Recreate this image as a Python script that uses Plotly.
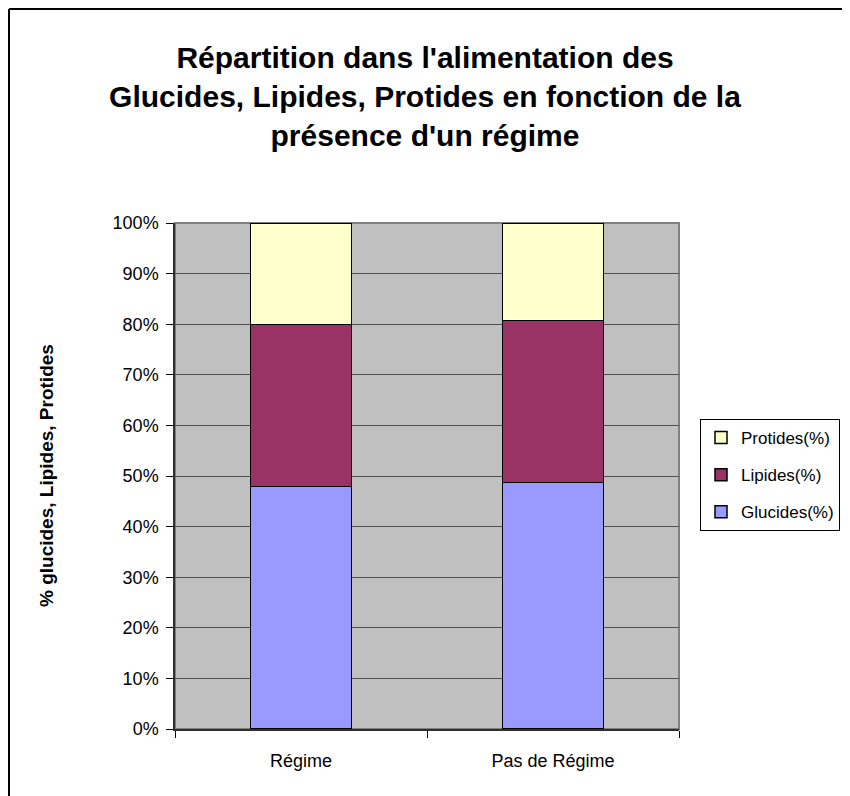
import plotly.graph_objects as go

categories = ["Régime", "Pas de Régime"]
glucides = [47.9, 48.7]
lipides = [32.0, 32.0]
protides = [20.1, 19.3]
y_ticks = list(range(0, 101, 10))
y_tick_labels = [f"{v}%" for v in y_ticks]

title_text = ("Répartition dans l'alimentation des<br>"
              "Glucides, Lipides, Protides en fonction de la<br>"
              "présence d'un régime")
y_title = "% glucides, Lipides, Protides"

OFF = 8  # page body margin
W, H = 850 - OFF, 796 - OFF
L, T = 175 - OFF, 223 - OFF
pw, ph = 504, 506
R, B = W - L - pw, H - T - ph

fig = go.Figure()
series = [("Glucides(%)", glucides, "#9999FF", 3),
          ("Lipides(%)", lipides, "#993366", 2),
          ("Protides(%)", protides, "#FFFFCC", 1)]
for name, vals, col, rank in series:
    fig.add_trace(go.Bar(
        x=categories, y=vals, name=name, legendgroup=name, legendrank=rank,
        marker=dict(color=col, line=dict(color="black", width=1.5)),
        width=0.4,
    ))

# outer chart border: only left and top edges visible in the image
fig.add_shape(type="line", xref="paper", yref="paper",
              x0=(1 - L) / pw, x1=(1 - L) / pw,
              y0=-(B + 20) / ph, y1=(H - B - 1) / ph,
              line=dict(color="black", width=2), layer="below")
fig.add_shape(type="line", xref="paper", yref="paper",
              x0=(1 - L) / pw, x1=(W + 20 - L) / pw,
              y0=(H - B - 1) / ph, y1=(H - B - 1) / ph,
              line=dict(color="black", width=2), layer="below")
# plot area border (gray)
fig.add_shape(type="rect", xref="paper", yref="paper",
              x0=0, x1=1, y0=0, y1=1,
              line=dict(color="#808080", width=2), layer="below")

# y axis title as rotated annotation
fig.add_annotation(text=f"<b>{y_title}</b>", textangle=-90,
                   xref="paper", yref="paper",
                   x=(46 - OFF - L) / pw, y=0.5,
                   xanchor="center", yanchor="middle", showarrow=False,
                   font=dict(size=19, color="black"))

fig.update_layout(
    width=W, height=H,
    margin=dict(l=L, r=R, t=T, b=B),
    barmode="stack",
    paper_bgcolor="white",
    plot_bgcolor="#C0C0C0",
    font=dict(family="Liberation Sans, Arial, sans-serif", color="black"),
    title=dict(text=title_text, x=(425 - OFF) / W, xref="container", xanchor="center",
               y=1 - (68 - OFF) / H, yref="container", yanchor="top",
               font=dict(size=30, family="Liberation Sans, Arial, sans-serif",
                         color="black", weight="bold")),
    showlegend=True,
    legend=dict(xref="container", yref="container",
                x=(700 - OFF) / W, xanchor="left",
                y=1 - (419 - OFF) / H, yanchor="top",
                traceorder="grouped", tracegroupgap=12,
                bordercolor="black", borderwidth=1, bgcolor="white",
                font=dict(size=17),
                itemwidth=30),
    bargap=0.6,
)
fig.update_xaxes(
    type="category", tickson="boundaries", ticks="outside", ticklen=7,
    tickcolor="black", showline=True, linecolor="#303030", linewidth=1.5,
    showgrid=False, tickfont=dict(size=18), zeroline=False,
    ticklabelstandoff=15,
)
fig.update_yaxes(
    range=[0, 100], tickmode="array", tickvals=y_ticks, ticktext=y_tick_labels,
    ticks="outside", ticklen=7, tickcolor="black",
    showline=True, linecolor="#303030", linewidth=1.5,
    showgrid=True, gridcolor="#505050", gridwidth=1,
    zeroline=False, tickfont=dict(size=18), ticklabelstandoff=4,
)

fig.write_html("out.html")
